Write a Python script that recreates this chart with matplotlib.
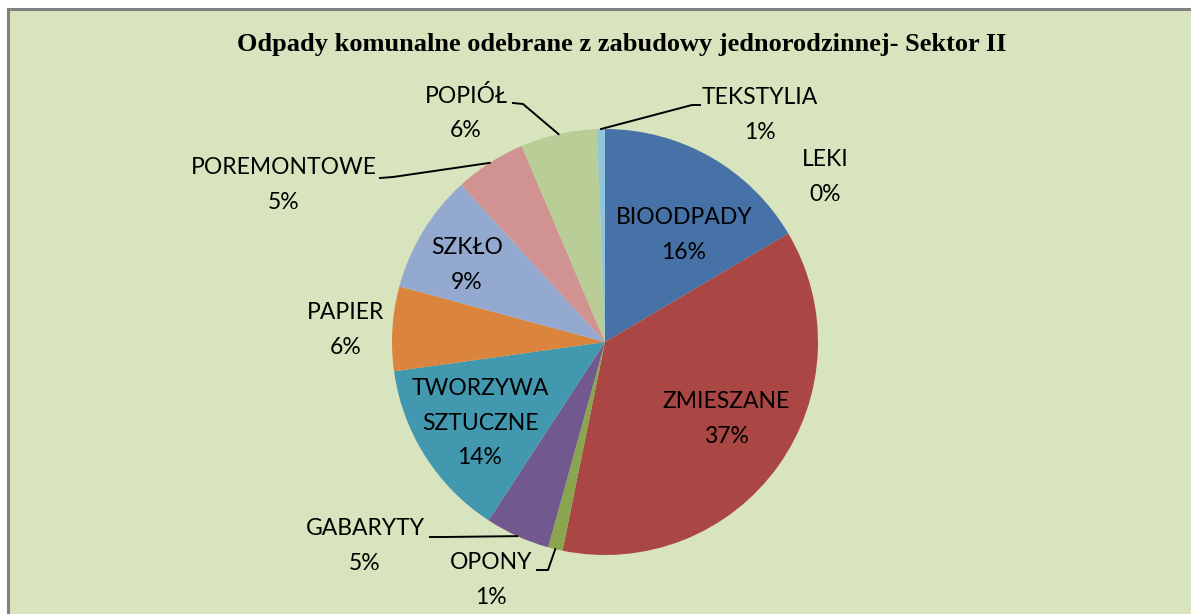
import matplotlib.pyplot as plt
import numpy as np

# dane
categories = ['BIOODPADY', 'ZMIESZANE', 'OPONY', 'GABARYTY', 'TWORZYWA\nSZTUCZNE',
              'PAPIER', 'SZKŁO', 'POREMONTOWE', 'POPIÓŁ', 'TEKSTYLIA', 'LEKI']
values = [16.5, 36.7, 1.1, 4.9, 13.6, 6.4, 9.0, 5.4, 5.8, 0.6, 0.0]
pct_labels = ['16%', '37%', '1%', '5%', '14%', '6%', '9%', '5%', '6%', '1%', '0%']
colors = ['#4672A8', '#AA4644', '#89A54E', '#71588F', '#4198AF', '#DB843D',
          '#93A9CF', '#D19392', '#B9CD96', '#92C4DC', '#A99BBD']

title = 'Odpady komunalne odebrane z zabudowy jednorodzinnej- Sektor II'

W, H = 1191, 614
# pozycje etykiet w pikselach (x, y od góry)
label_pos = [(684, 235), (726, 419), (491, 580), (365, 546), (480, 423),
             (346, 330), (467, 265), (284, 185), (466, 113), (760, 115), (825, 177)]
# linie odniesienia: (koniec przy etykiecie, punkt załamania) lub None
leaders = [None, None, ((537, 570), (548, 570)), ((430, 537), (445, 537)), None,
           None, None, ((380, 178), (393, 177)), ((513, 103), (523, 104)),
           ((700, 105), (692, 105)), None]

cx, cy, r = 605, 342, 213


def px(p):
    return p[0], H - p[1]


fig = plt.figure(figsize=(W / 100, H / 100), dpi=100)
fig.patch.set_facecolor('white')
ax = fig.add_axes([0, 0, 1, 1])

# tło i ramka
ax.add_patch(plt.Rectangle((8, 0), W, H - 9, facecolor='#D8E4BD', edgecolor='none', zorder=0))
ax.plot([7.5, 7.5, W + 5], [0, H - 9, H - 9], color='#808080', lw=2.2, zorder=1,
        solid_joinstyle='miter')

wedges, _ = ax.pie(values, colors=colors, startangle=90, counterclock=False,
                   radius=r, center=(cx, H - cy),
                   wedgeprops=dict(linewidth=0), frame=True)
ax.set_xlim(0, W)
ax.set_ylim(0, H)
ax.set_aspect('equal')
ax.axis('off')

font = 'Lato'
for i, w in enumerate(wedges):
    x, y = px(label_pos[i])
    ax.text(x, y, categories[i] + '\n' + pct_labels[i], ha='center', va='center',
            fontsize=16.5, family=font, linespacing=1.8, color='black', zorder=5)
    if leaders[i] is not None:
        mid = np.deg2rad((w.theta1 + w.theta2) / 2)
        ex, ey = cx + r * np.cos(mid), (H - cy) + r * np.sin(mid)
        a = px(leaders[i][0])
        b = px(leaders[i][1])
        ax.plot([a[0], b[0], ex], [a[1], b[1], ey], color='black', lw=1.4, zorder=4)

ax.text(622, H - 44, title, ha='center', va='center', fontsize=19,
        family='Liberation Serif', fontweight='bold')

fig.savefig('out.png', dpi=100)
